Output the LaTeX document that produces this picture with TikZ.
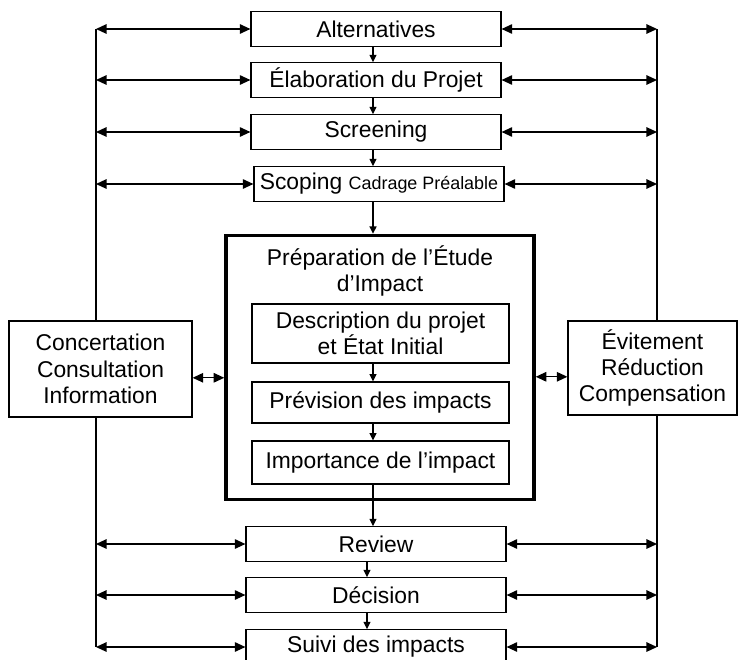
\documentclass[tikz,border=0pt]{standalone}
\usepackage{fontspec}
\setmainfont{Liberation Sans}
\usetikzlibrary{arrows.meta}
\begin{document}
\begin{tikzpicture}[x=0.02cm, y=-0.02cm, line width=0.7pt,
  every node/.style={font=\fontsize{13}{15}\selectfont, align=center, inner sep=0pt},
  etape/.style={draw, fill=white, minimum width=5cm, minimum height=0.69cm},
  etapeb/.style={etape, minimum width=5.2cm},
  interne/.style={draw, fill=white, minimum width=5.14cm},
  lateral/.style={draw, fill=white},
  fleche/.style={>={Triangle[length=4.2pt,width=4pt]}, ->},
  lien/.style={>={Triangle[length=6pt,width=5.4pt]}, <->}]
  \clip (0,0) rectangle (740,659);
  \coordinate (gh) at (96,29);
  \coordinate (gb) at (96,647);
  \coordinate (dh) at (657,29);
  \coordinate (db) at (657,647);
  \coordinate (axe) at (373,0);
  \coordinate (axeb) at (367,0);
  \draw (gh) -- (gb);
  \draw (dh) -- (db);
  \node[etape] (alt) at (376,29) {Alternatives};
  \node[etape] (elab) at (376,80) {Élaboration du Projet};
  \node[etape] (screen) at (376,132) {Screening};
  \node[etape] (scop) at (379,184) {Scoping {\fontsize{10.2}{12}\selectfont Cadrage Préalable}};
  \node[draw, fill=white, line width=2pt, minimum width=6.16cm, minimum height=5.28cm] (etude) at (380,367.5) {};
  \node (titre) at (380,271) {Préparation de l’Étude\\d’Impact};
  \node[interne, minimum height=1.18cm] (desc) at (380.5,333.5) {Description du projet\\et État Initial};
  \node[interne, minimum height=0.82cm] (prev) at (380.5,402.5) {Prévision des impacts};
  \node[interne, minimum height=0.86cm] (imp) at (380.5,462.5) {Importance de l’impact};
  \node[lateral, minimum width=3.66cm, minimum height=1.92cm] (conc) at (100.5,369) {Concertation\\Consultation\\Information};
  \node[lateral, minimum width=3.38cm, minimum height=1.88cm] (evit) at (652.5,368) {Évitement\\Réduction\\Compensation};
  \node[etapeb] (review) at (376,544) {Review};
  \node[etapeb] (decision) at (376,595) {Décision};
  \node[etapeb] (suivi) at (376,647) {Suivi des impacts};
  \draw[fleche] (axe |- alt.south) -- (axe |- elab.north);
  \draw[fleche] (axe |- elab.south) -- (axe |- screen.north);
  \draw[fleche] (axe |- screen.south) -- (axe |- scop.north);
  \draw[fleche] (axe |- scop.south) -- (axe |- etude.north);
  \draw[fleche] (axe |- desc.south) -- (axe |- prev.north);
  \draw[fleche] (axe |- prev.south) -- (axe |- imp.north);
  \draw (axe |- imp.south) -- (axe |- etude.south);
  \draw[fleche] (axe |- etude.south) -- (axe |- review.north);
  \draw[fleche] (axeb |- review.south) -- (axeb |- decision.north);
  \draw[fleche] (axeb |- decision.south) -- (axeb |- suivi.north);
  \draw[lien] (gh |- alt.west) -- (alt.west);
  \draw[lien] (gh |- elab.west) -- (elab.west);
  \draw[lien] (gh |- screen.west) -- (screen.west);
  \draw[lien] (gh |- scop.west) -- (scop.west);
  \draw[lien] (gh |- review.west) -- (review.west);
  \draw[lien] (gh |- decision.west) -- (decision.west);
  \draw[lien] (gh |- suivi.west) -- (suivi.west);
  \draw[lien] (alt.east) -- (dh |- alt.east);
  \draw[lien] (elab.east) -- (dh |- elab.east);
  \draw[lien] (screen.east) -- (dh |- screen.east);
  \draw[lien] (scop.east) -- (dh |- scop.east);
  \draw[lien] (review.east) -- (dh |- review.east);
  \draw[lien] (decision.east) -- (dh |- decision.east);
  \draw[lien] (suivi.east) -- (dh |- suivi.east);
  \draw[lien] ([yshift=-5pt]conc.east) -- ([yshift=-5pt]conc.east -| etude.west);
  \draw[lien] ([yshift=-5pt]evit.west) -- ([yshift=-5pt]evit.west -| etude.east);
\end{tikzpicture}
\end{document}
